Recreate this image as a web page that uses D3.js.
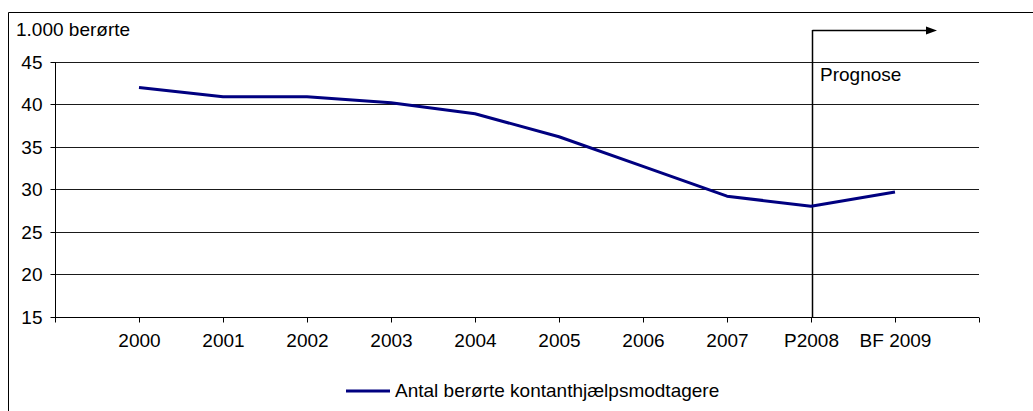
<!DOCTYPE html>
<html>
<head>
<meta charset="utf-8">
<script src="https://cdn.jsdelivr.net/npm/d3@7"></script>
<style>
  html, body { margin: 0; padding: 0; background: #fff; }
  svg { display: block; }
  text { font-family: "Liberation Sans", Arial, sans-serif; fill: #000; }
</style>
</head>
<body>
<svg id="chart" width="1033" height="411"></svg>
<script>
const categories = ["2000", "2001", "2002", "2003", "2004", "2005", "2006", "2007", "P2008", "BF 2009"];
const values = [42.0, 40.9, 40.9, 40.2, 38.9, 36.2, 32.7, 29.2, 28.0, 29.7];
const yTicks = [15, 20, 25, 30, 35, 40, 45];
const seriesName = "Antal berørte kontanthjælpsmodtagere";
const yTitle = "1.000 berørte";
const prognoseLabel = "Prognose";
const prognoseStart = "P2008";

(function () {
const svg = d3.select("#chart");
const fs = 19;

const pLeft = 55, pRight = 979, pTop = 62, pBottom = 316.7;

const x = d3.scalePoint().domain(categories).range([pLeft, pRight]).padding(1);
const y = d3.scaleLinear().domain([15, 45]).range([pBottom, pTop]);

// outer border
svg.append("path")
  .attr("d", `M8.5,420 V12.5 H1040`)
  .attr("fill", "none").attr("stroke", "#000").attr("stroke-width", 1);

// gridlines
svg.append("g").selectAll("line").data(yTicks).join("line")
  .attr("x1", pLeft).attr("x2", pRight)
  .attr("y1", d => Math.round(y(d)) + 0.5).attr("y2", d => Math.round(y(d)) + 0.5)
  .attr("stroke", "#1a1a1a").attr("stroke-width", 1);

// y axis
const yAxis = svg.append("g")
  .attr("transform", `translate(${pLeft + 0.5},0)`)
  .call(d3.axisLeft(y).tickValues(yTicks).tickSize(5).tickPadding(8).tickFormat(d3.format("d")));
yAxis.select(".domain").attr("stroke", "#000").attr("d", `M0,${Math.round(pTop)+0.5}V${Math.round(pBottom)+0.5}`);
yAxis.selectAll(".tick line").attr("stroke", "#000");
yAxis.selectAll(".tick").attr("transform", d => `translate(0,${Math.round(y(d)) + 0.5})`);
yAxis.selectAll("text").attr("font-size", fs).attr("font-family", "Liberation Sans, Arial, sans-serif").attr("fill", "#000");

// x axis
const xAxis = svg.append("g")
  .attr("transform", `translate(0,${Math.round(pBottom) + 0.5})`)
  .call(d3.axisBottom(x).tickSize(5).tickPadding(11));
xAxis.select(".domain").attr("stroke", "#000").attr("d", `M${pLeft},0H${pRight}`);
xAxis.selectAll(".tick line").attr("stroke", "#000");
xAxis.selectAll("text").attr("font-size", fs).attr("font-family", "Liberation Sans, Arial, sans-serif").attr("fill", "#000");
xAxis.selectAll(".endtick").data(x.range()).join("line")
  .attr("class", "endtick")
  .attr("x1", d => d + 0.5).attr("x2", d => d + 0.5)
  .attr("y1", 0).attr("y2", 5).attr("stroke", "#000");

// y title
svg.append("text").attr("x", 16).attr("y", 36).attr("font-size", fs).text(yTitle);

// prognose marker
const px = x(prognoseStart) + 1.5;
svg.append("line").attr("x1", px).attr("x2", px).attr("y1", 30).attr("y2", Math.round(pBottom) + 0.5)
  .attr("stroke", "#000").attr("stroke-width", 1.5);
svg.append("line").attr("x1", px).attr("x2", 928).attr("y1", 30.5).attr("y2", 30.5)
  .attr("stroke", "#000").attr("stroke-width", 1.5);
svg.append("path").attr("d", `M926,26.5 L937,30.5 L926,34.5 Z`).attr("fill", "#000");
svg.append("text").attr("x", 820).attr("y", 81).attr("font-size", fs).text(prognoseLabel);

// series line
const line = d3.line().x((d, i) => x(categories[i])).y(d => y(d));
svg.append("path").datum(values)
  .attr("d", line)
  .attr("fill", "none").attr("stroke", "#000080").attr("stroke-width", 3)
  .attr("stroke-linejoin", "round");

// legend
svg.append("line").attr("x1", 346).attr("x2", 390).attr("y1", 391).attr("y2", 391)
  .attr("stroke", "#000080").attr("stroke-width", 3);
svg.append("text").attr("x", 395).attr("y", 396.5).attr("font-size", fs).text(seriesName);
})();
</script>
</body>
</html>
